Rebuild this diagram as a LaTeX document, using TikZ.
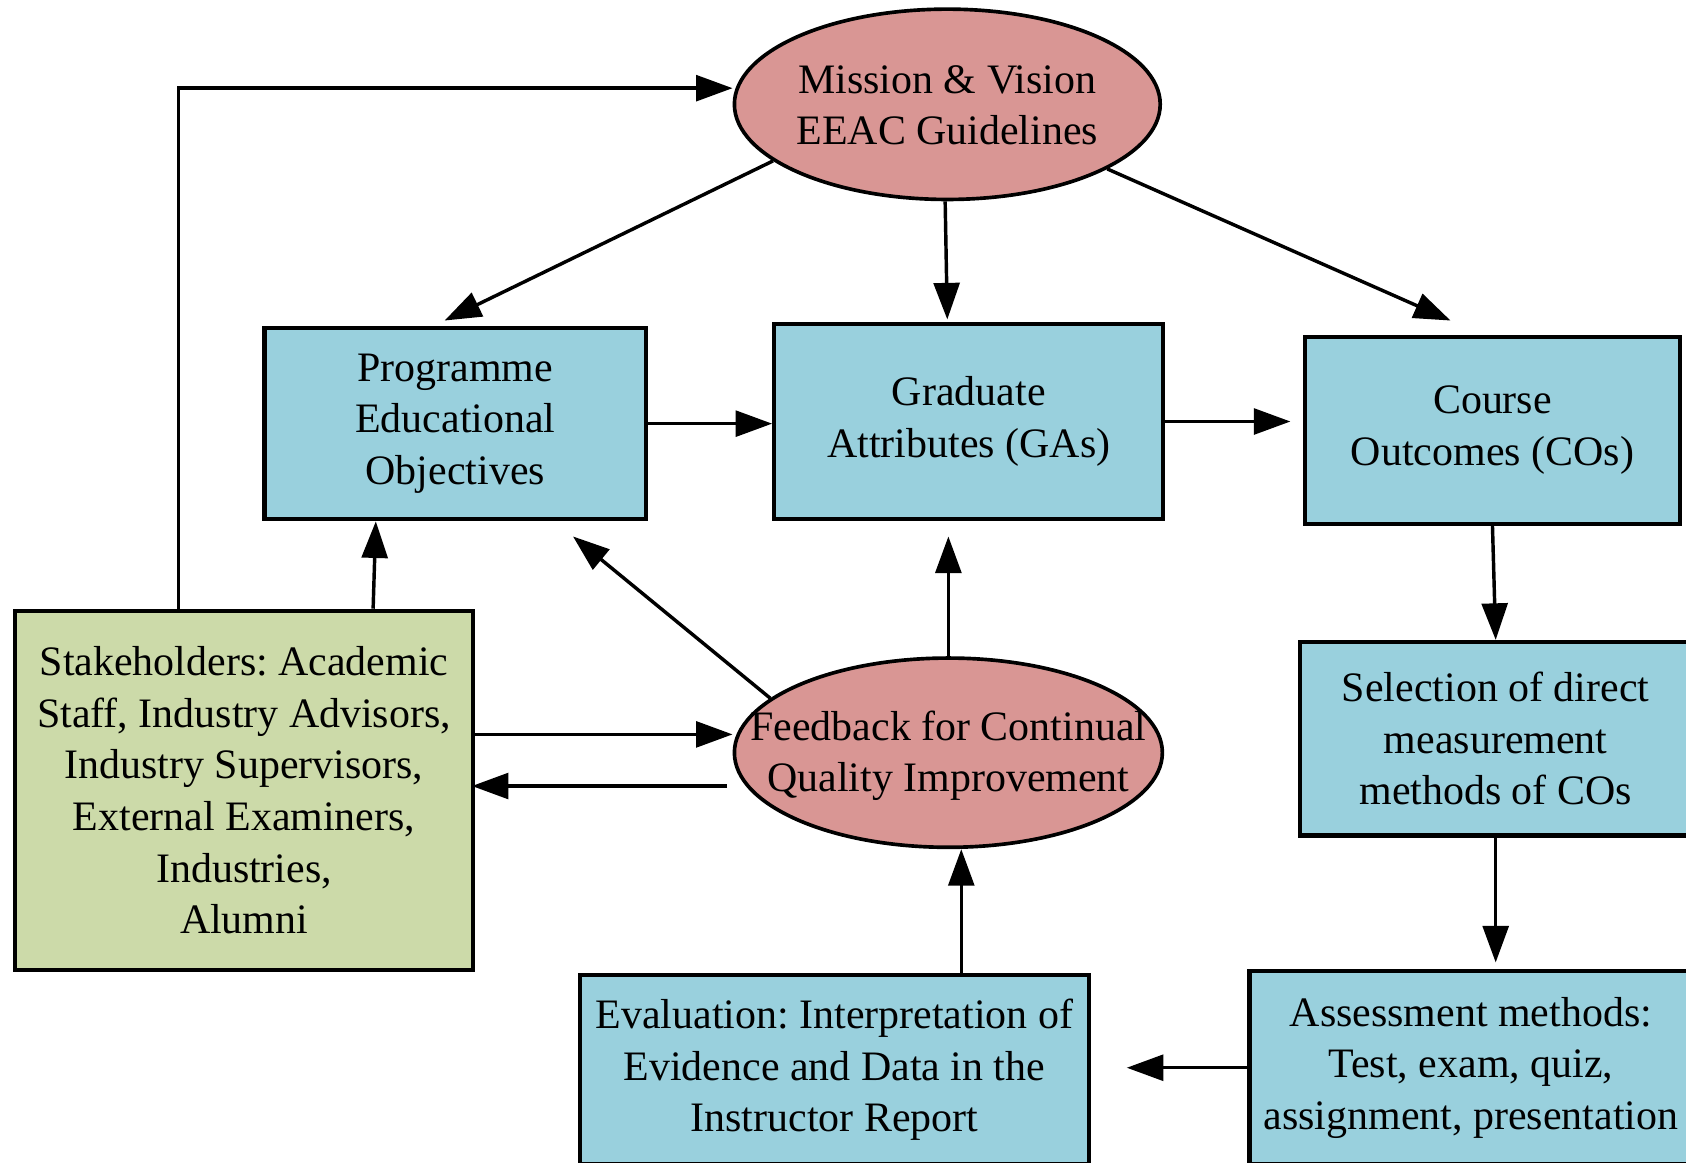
\documentclass[tikz,border=0pt]{standalone}
\usepackage{fontspec}
\setmainfont{Liberation Serif}
\frenchspacing
\usetikzlibrary{arrows.meta,shapes.geometric,calc}
\definecolor{boxblue}{HTML}{99D0DD}
\definecolor{ovalred}{HTML}{D99694}
\definecolor{stakegreen}{HTML}{CCDAA9}

\begin{document}
\begin{tikzpicture}[x=1pt,y=-1pt,
  every node/.style={font=\fontsize{39}{48}\selectfont, align=center, inner sep=0pt},
  box/.style={draw, rectangle, line width=3.8pt, fill=boxblue},
  oval/.style={draw, ellipse, line width=3.4pt, fill=ovalred},
  arr/.style={line width=3.2pt, -{Triangle[length=34pt,width=24pt]}}]

\useasboundingbox (0,0) rectangle (1568,1081);
\clip (0,0) rectangle (1568,1081);

% ovals (text placed separately so the shape keeps its size)
\node[oval, minimum width=396pt, minimum height=177pt] (mission) at (881,97) {};
\node (missiontext) at ([yshift=-1pt]mission.center) {Mission \& Vision\\EEAC Guidelines};
\node[oval, minimum width=398pt, minimum height=176pt] (feed) at (882,700) {};
\node (feedtext) at ([yshift=-3pt]feed.center) {Feedback for Continual\\Quality Improvement};

% boxes
\node[box, minimum width=355pt, minimum height=178pt] (prog) at (423.5,394)
  {Programme\\Educational\\Objectives};
\node[box, minimum width=362pt, minimum height=182pt] (grad) at (901,392)
  {Graduate\\Attributes (GAs)};
\node[box, minimum width=348pt, minimum height=174pt] (course) at (1388,400)
  {Course\\Outcomes (COs)};
\node[box, fill=stakegreen, minimum width=426pt, minimum height=334pt] (stake) at (227,735)
  {Stakeholders: Academic\\Staff, Industry Advisors,\\Industry Supervisors,\\External Examiners,\\Industries,\\Alumni};
\node[box, minimum width=364pt, minimum height=180pt] (sel) at (1391,687)
  {Selection of direct\\measurement\\methods of COs};
\node[box, minimum width=412pt, minimum height=180pt] (assess) at (1368,993)
  {Assessment methods:\\Test, exam, quiz,\\assignment, presentation};
\node[box, minimum width=474pt, minimum height=176pt] (eval) at (776,995)
  {Evaluation: Interpretation of\\Evidence and Data in the\\Instructor Report};

% connectors
\draw[arr] ([xshift=-61pt]stake.north) |- ([yshift=15pt]mission.west);
\draw[arr] ([xshift=120pt]stake.north) -- ([xshift=-74pt]prog.south);
\draw[arr] (mission.198) -- ([xshift=-10pt,yshift=5pt]prog.north);
\draw[arr] ([xshift=-2pt]mission.south) -- ([xshift=-20pt,yshift=2pt]grad.north);
\draw[arr] (mission.-22) -- ([xshift=-39pt,yshift=13pt]course.north);
\draw[arr] (prog.east) -- (prog.east -| grad.west);
\draw[arr, shorten >=12pt] (grad.east) -- (grad.east -| course.west);
\draw[arr] (course.south) -- (sel.north);
\draw[arr, shorten >=6pt] (sel.south) -- (sel.south |- assess.north);
\draw[arr, shorten >=33pt] (assess.west) -- (assess.west -| eval.east);
\draw[arr] ([xshift=118pt]eval.north) -- ([xshift=12pt]feed.south);
\draw[arr, shorten >=14pt] (feed.north) -- (feed.north |- grad.south);
\draw[arr] (feed.163) -- ([xshift=-70pt,yshift=-14pt]prog.south east);
\draw[arr] ([yshift=52pt]stake.east) -- ([yshift=52pt]stake.east -| feed.west);
\draw[arr, shorten >=2pt] ([xshift=-5pt,yshift=-31pt]feed.west) -- ([xshift=-5pt,yshift=-31pt]feed.west -| stake.east);
\end{tikzpicture}
\end{document}
